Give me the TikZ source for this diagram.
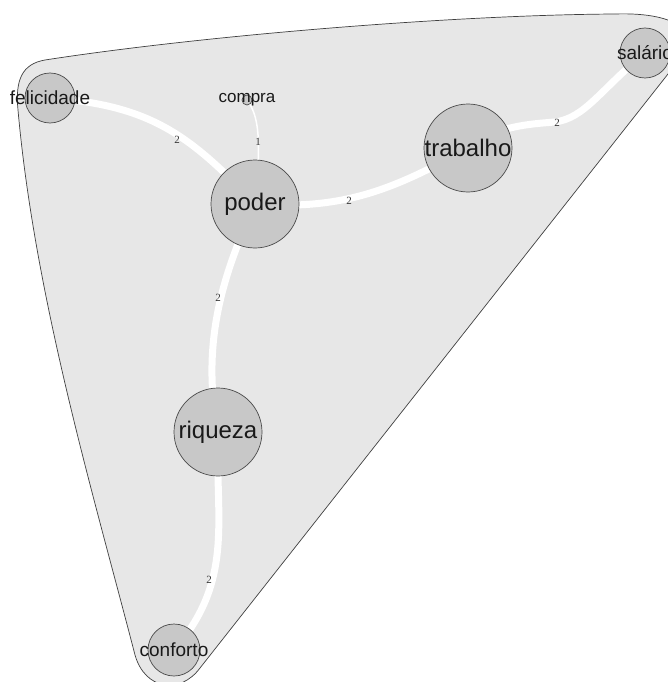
\documentclass[tikz,border=0pt]{standalone}
\usepackage{fontspec}
\setmainfont{Liberation Sans}
\newfontfamily\serifnum{Liberation Serif}
\definecolor{hullfill}{HTML}{E7E7E7}
\definecolor{vfill}{HTML}{C8C8C8}
\definecolor{vline}{HTML}{4A4A4A}
\begin{document}
\begin{tikzpicture}[x=1pt,y=-1pt,
  vert/.style={circle,draw=vline,fill=vfill,line width=0.7pt,inner sep=0pt},
  big/.style={vert,minimum size=88pt},
  small/.style={vert,minimum size=50pt},
  tiny/.style={vert,minimum size=10pt},
  lbl/.style={inner sep=0pt,text=black!90},
  lblbig/.style={lbl,font=\fontsize{24}{24}\selectfont},
  lblsmall/.style={lbl,font=\fontsize{19}{19}\selectfont},
  lbltiny/.style={lbl,font=\fontsize{17}{17}\selectfont},
  edge/.style={draw=white,line width=7pt,line cap=round},
  thinedge/.style={draw=white,line width=1.5pt},
  elbl/.style={inner sep=0pt,font=\serifnum\fontsize{11}{11}\selectfont,text=black!80}]
\useasboundingbox (0,0) rectangle (668,682);
\clip (0,0) rectangle (668,682);
\fill[white] (0,0) rectangle (668,682);
% hull
\draw[fill=hullfill,draw=black!75,line width=0.7pt]
  (45,60) .. controls (200,36) and (450,15) .. (615,14)
  .. controls (672,12) and (705,30) .. (679,60)
  -- (200,668)
  .. controls (180,695) and (145,690) .. (135,655)
  .. controls (95,500) and (35,300) .. (18,110)
  .. controls (15,80) and (22,64) .. (45,60) -- cycle;
% node positions
\coordinate (cfel) at (50,98);
\coordinate (ccom) at (247,100);
\coordinate (cpod) at (255,204);
\coordinate (ctra) at (468,148);
\coordinate (csal) at (645,53);
\coordinate (criq) at (218,432);
\coordinate (ccon) at (174,650);
% edges
\draw[edge] (cfel) .. controls (150,105) and (190,135) .. (cpod);
\draw[thinedge] (ccom) .. controls (258,115) and (262,135) .. (cpod);
\draw[edge] (cpod) .. controls (340,210) and (390,192) .. (ctra);
\draw[edge] (ctra) .. controls (495,126) and (530,124) .. (555,122)
  .. controls (585,118) and (600,90) .. (csal);
\draw[edge] (cpod) .. controls (225,270) and (200,340) .. (criq);
\draw[edge] (criq) .. controls (215,520) and (235,580) .. (ccon);
% edge labels
\node[elbl] (l1) at (177,140) {2};
\node[elbl] (l2) at (258,142) {1};
\node[elbl] (l3) at (349,201) {2};
\node[elbl] (l4) at (557,123) {2};
\node[elbl] (l5) at (218,298) {2};
\node[elbl] (l6) at (209,580) {2};
% vertices
\node[small] (fel) at (cfel) {};
\node[tiny] (com) at (ccom) {};
\node[big] (pod) at (cpod) {};
\node[big] (tra) at (ctra) {};
\node[small] (sal) at (csal) {};
\node[big] (riq) at (criq) {};
\node[small,minimum size=52pt] (con) at (ccon) {};
% vertex labels
\node[lblsmall] (felt) at (cfel) {felicidade};
\node[lbltiny] (comt) at (ccom) {compra};
\node[lblbig] (podt) at (cpod) {poder};
\node[lblbig] (trat) at (ctra) {trabalho};
\node[lblsmall] (salt) at (csal) {salário};
\node[lblbig] (riqt) at (criq) {riqueza};
\node[lblsmall] (cont) at (ccon) {conforto};
\end{tikzpicture}
\end{document}
